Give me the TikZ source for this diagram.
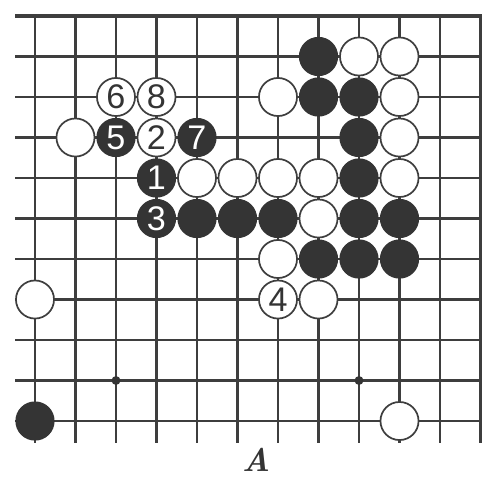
\documentclass[tikz,border=0pt]{standalone}
\usepackage{fontspec}
\usepackage{tikz}
\usepackage{xcolor}
\newfontfamily\stonefont{Liberation Sans}
\definecolor{goInk}{RGB}{52,52,52}
\definecolor{goLine}{RGB}{62,62,62}
\tikzset{
  bstone/.style={circle, fill=goInk, draw=goInk, line width=0.8pt, minimum size=0.94cm, inner sep=0pt,
    text=white, font=\stonefont\fontsize{24}{24}\selectfont},
  wstone/.style={circle, fill=white, draw=goLine, line width=1.2pt, minimum size=0.94cm, inner sep=0pt,
    text=goInk, font=\stonefont\fontsize{24}{24}\selectfont},
}
\begin{document}
\begin{tikzpicture}
  \useasboundingbox (-0.864,-1.358) rectangle (11.111,10.395);
  \foreach \r in {0,...,9} {
    \draw[goLine, line width=1.5pt] (-0.49,\r) -- (11,\r);
  }
  \foreach \c in {0,...,10} {
    \draw[goLine, line width=1.5pt] (\c,-0.54) -- (\c,10);
  }
  \draw[goLine, line width=2.6pt] (-0.49,10) -- (11,10) -- (11,-0.54);
  \fill[goInk] (2,1) circle (0.11);
  \fill[goInk] (8,1) circle (0.11);
  \foreach \c/\r in {7/9, 7/8, 8/8, 8/7, 8/6, 4/5, 5/5, 6/5, 8/5, 9/5, 7/4, 8/4, 9/4, 0/0} {
    \node[bstone] (b-\c-\r) at (\c,\r) {};
  }
  \foreach \c/\r in {8/9, 9/9, 6/8, 9/8, 1/7, 9/7, 4/6, 5/6, 6/6, 7/6, 9/6, 7/5, 6/4, 0/3, 7/3, 9/0} {
    \node[wstone] (w-\c-\r) at (\c,\r) {};
  }
  \foreach \n/\c/\r in {1/3/6, 3/3/5, 5/2/7, 7/4/7} {
    \node[bstone] (m\n) at (\c,\r) {\n};
  }
  \foreach \n/\c/\r in {2/3/7, 4/6/3, 6/2/8, 8/3/8} {
    \node[wstone] (m\n) at (\c,\r) {\n};
  }
  \node[font=\fontsize{23}{23}\selectfont\bfseries\itshape, text=goInk, inner sep=0pt] (markA) at (5.46,-0.95) {A};
\end{tikzpicture}
\end{document}
